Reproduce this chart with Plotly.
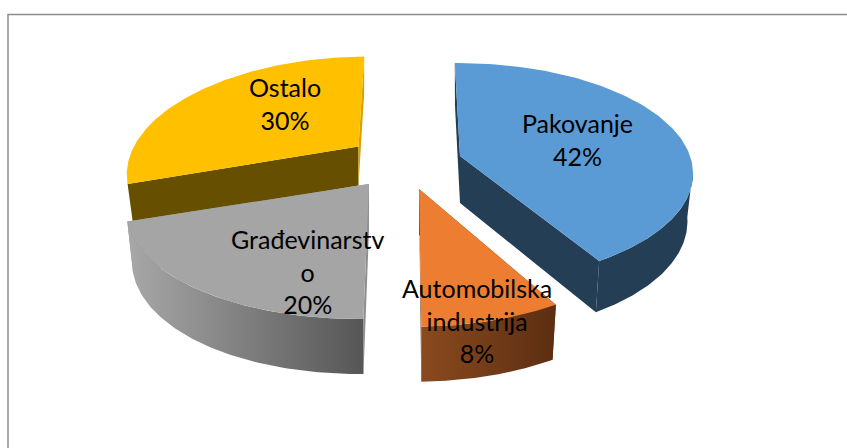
import numpy as np
import plotly.graph_objects as go

categories = ["Pakovanje", "Automobilska industrija", "Građevinarstvo", "Ostalo"]
values = [42, 8, 20, 30]
label_lines = [["Pakovanje"], ["Automobilska", "industrija"], ["Građevinarstv", "o"], ["Ostalo"]]

# styling and layout, not data
top_colors = ["#5B9BD5", "#ED7D31", "#A5A5A5", "#FFC000"]
cut_start_colors = ["#243E56", "#6B3815", "#8E8E8E", "#665000"]
cut_end_colors = ["#243E56", "#6B3815", "#8E8E8E", "#D6A300"]
side_start = ["#243E56", "#8A4A1E", "#A8A8A8", "#665000"]
side_end = ["#243E56", "#5C2E12", "#565656", "#665000"]
apex = [(460, 156), (419, 189), (369, 184), (358.5, 146.5)]
label_pos = [(577, 139), (477, 320), (307, 271), (285, 103)]
x_scale = [1.0, 1.015, 1.035, 0.985]
y_scale = [0.973, 1.02, 1.0, 1.0]
y_offset = [-5.4, 0, 0, 0]
shear = [0.02, -0.02, -0.08, -0.1]
depth_back = [42, 55, 45, 38]
depth_front = [52, 55, 55, 42]
depth_apex = [47, 46, 46, 39]
A, B, K = 228, 108, 0.2
START = -1.0
SHRINK = 0.976
DRAW_ORDER = [3, 2, 0, 1]


def top_point(theta, i):
    ax, ay = apex[i]
    t = np.radians(theta)
    p, w = np.cos(t), 1 + K * np.cos(t)
    dy = -B * p / w * y_scale[i] + y_offset[i]
    return ax + x_scale[i] * A * np.sin(t) / w + shear[i] * dy, ay + dy


def bot_point(theta, i):
    ax, ay = apex[i]
    x, y = top_point(theta, i)
    p = np.cos(np.radians(theta))
    d = depth_back[i] + (depth_front[i] - depth_back[i]) * (1 - p) / 2
    return ax + (x - ax) * SHRINK, y + d


def poly(fig, xs, ys, color, gradient=None):
    kw = dict(fillcolor=color)
    if gradient:
        kw = dict(fillgradient=dict(type="horizontal",
                                    colorscale=[[0, gradient[0]], [1, gradient[1]]]))
    fig.add_trace(go.Scatter(x=list(xs), y=list(ys), mode="lines", fill="toself",
                             line=dict(color=color, width=0), hoverinfo="skip",
                             showlegend=False, **kw))


fig = go.Figure()
edges = START + np.cumsum([0] + [v * 3.6 for v in values])

for i in DRAW_ORDER:
    a0, a1 = edges[i], edges[i + 1]
    ax, ay = apex[i]
    abx, aby = ax, ay + depth_apex[i]
    # the two cut faces
    for edge, color in ((a0, cut_start_colors[i]), (a1, cut_end_colors[i])):
        px, py = top_point(edge, i)
        qx, qy = bot_point(edge, i)
        poly(fig, [ax, px, qx, abx, ax], [ay, py, qy, aby, ay], color)
    # outer wall, only its front part is visible
    lo, hi = max(a0, 100), min(a1, 251)
    if hi > lo:
        th = np.linspace(lo, hi, 80)
        tx, ty = top_point(th, i)
        bx, by = bot_point(th[::-1], i)
        poly(fig, np.r_[tx, bx, tx[0]], np.r_[ty, by, ty[0]], side_start[i],
             gradient=(side_start[i], side_end[i]))
    # top surface
    th = np.linspace(a0, a1, 120)
    tx, ty = top_point(th, i)
    poly(fig, np.r_[ax, tx, ax], np.r_[ay, ty, ay], top_colors[i])

for lines, v, (lx, ly) in zip(label_lines, values, label_pos):
    fig.add_annotation(x=lx, y=ly, text="<br>".join(lines + [f"{v}%"]), showarrow=False,
                       font=dict(family="Lato, Carlito, sans-serif", size=25, color="#000000"),
                       align="center", xanchor="center", yanchor="middle")

fig.update_layout(
    width=847, height=448, margin=dict(l=0, r=0, t=0, b=0),
    paper_bgcolor="#FFFFFF", plot_bgcolor="#FFFFFF", showlegend=False,
    xaxis=dict(range=[0, 847], visible=False, fixedrange=True),
    yaxis=dict(range=[448, 0], visible=False, fixedrange=True),
    shapes=[dict(type="rect", xref="x", yref="y", x0=8, y0=14.5, x1=900, y1=500,
                 line=dict(color="#8C8C8C", width=1.5), layer="below")],
)
fig.write_html("out.html", config={"displayModeBar": False},
               post_script="document.body.style.margin='0';document.documentElement.style.overflow='hidden';")
